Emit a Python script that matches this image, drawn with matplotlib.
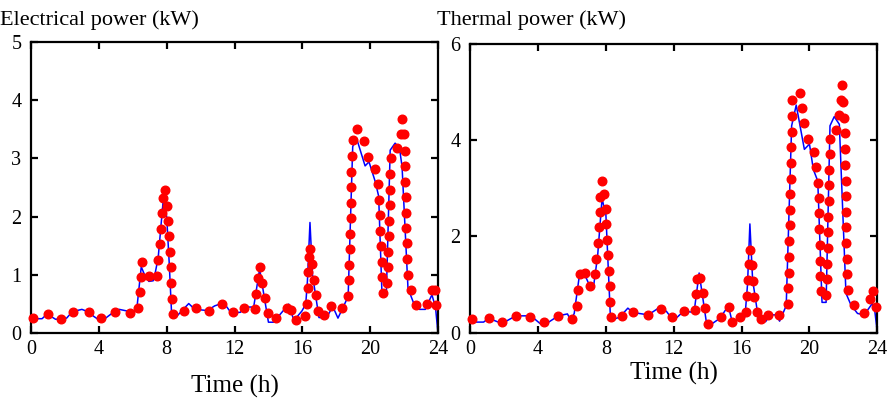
import matplotlib
matplotlib.use("Agg")
import matplotlib.pyplot as plt
import numpy as np

plt.rcParams['font.family'] = ['Liberation Serif', 'DejaVu Serif']

# electrical power: measured profile (blue) and sampled points (red)
elec_line_t = [0.0, 0.65, 0.95, 1.45, 2.1, 2.43, 3.0, 3.36, 3.7, 4.0, 4.4, 4.9, 5.2, 5.7, 6.0,
               6.25, 6.5, 6.7, 6.95, 7.2, 7.3, 7.5, 7.78, 7.87, 8.0, 8.15, 8.3, 8.65, 9.3, 9.55,
               10.05, 10.4, 10.83, 11.13, 11.5, 11.8, 12.35, 12.55, 13.13, 13.48, 14.0, 14.3,
               15.2, 15.5, 15.97, 16.2, 16.3, 16.45, 16.6, 16.98, 17.43, 17.7, 17.9, 18.1, 18.7,
               18.97, 19.19, 19.7, 19.93, 20.3, 20.5, 20.7, 20.95, 21.18, 21.47, 21.73, 21.88,
               22.23, 22.6, 22.9, 23.25, 23.64, 23.85, 24.0]
elec_line_v = [0.25, 0.25, 0.33, 0.24, 0.26, 0.37, 0.41, 0.37, 0.29, 0.23, 0.26, 0.37, 0.41, 0.38, 0.31,
               0.45, 1.14, 1.0, 0.89, 0.9, 1.0, 1.3, 2.23, 2.18, 2.0, 1.2, 0.27, 0.31, 0.51, 0.44,
               0.40, 0.39, 0.47, 0.50, 0.47, 0.35, 0.36, 0.45, 0.45, 1.1, 0.19, 0.19,
               0.5, 0.22, 0.38, 0.5, 0.9, 1.9, 1.0, 0.27, 0.27, 0.41, 0.39, 0.26, 0.63,
               3.2, 3.35, 2.87, 2.94, 2.6, 2.35, 0.64, 0.64, 3.14, 3.26, 3.17, 2.86,
               0.77, 0.49, 0.41, 0.41, 0.66, 0.45, 0.0]

elec_dot_t = [0.12, 1.02, 1.76, 2.46, 3.4, 4.12, 4.96, 5.82, 6.32, 6.4, 6.48, 6.56, 6.96, 7.4,
              7.48, 7.58, 7.64, 7.72, 7.76, 7.88, 8.02, 8.1, 8.14, 8.2, 8.24, 8.28, 8.32, 8.36,
              9.0, 9.7, 10.5, 11.26, 11.9, 12.53, 13.21, 13.29, 13.39, 13.48, 13.64, 13.78,
              13.95, 14.46, 15.07, 15.32, 15.65, 16.14, 16.26, 16.32, 16.36, 16.41, 16.47,
              16.57, 16.67, 16.79, 16.9, 17.25, 17.68, 18.31, 18.72, 18.76, 18.78, 18.8, 18.82,
              18.84, 18.84, 18.86, 18.89, 18.93, 18.97, 19.25, 19.62, 19.85, 20.26, 20.46,
              20.52, 20.55, 20.59, 20.63, 20.67, 20.69, 20.73, 21.0, 21.04, 21.06, 21.1, 21.12,
              21.14, 21.16, 21.18, 21.22, 21.61, 21.79, 21.9, 21.98, 22.04, 22.04, 22.08, 22.1,
              22.12, 22.14, 22.16, 22.18, 22.21, 22.43, 22.7, 23.33, 23.64, 23.8, 23.89]
elec_dot_v = [0.27, 0.33, 0.25, 0.37, 0.37, 0.27, 0.37, 0.34, 0.43, 0.70, 0.96, 1.23, 0.99, 0.99,
              1.26, 1.53, 1.79, 2.06, 2.32, 2.45, 2.19, 1.93, 1.66, 1.39, 1.13, 0.86, 0.59, 0.33,
              0.38, 0.44, 0.39, 0.50, 0.37, 0.44, 0.41, 0.67, 0.94, 1.13, 0.87, 0.61,
              0.34, 0.26, 0.43, 0.40, 0.23, 0.30, 0.51, 0.78, 1.05, 1.31, 1.45,
              1.18, 0.91, 0.65, 0.38, 0.31, 0.46, 0.44, 0.64, 0.91, 1.17, 1.44, 1.71,
              1.97, 2.24, 2.50, 2.77, 3.04, 3.31, 3.51, 3.30, 3.03, 2.82, 2.56,
              2.29, 2.03, 1.76, 1.50, 1.23, 0.96, 0.69, 0.86, 1.13, 1.40, 1.66, 1.93,
              2.20, 2.46, 2.73, 3.0, 3.17, 3.41, 3.67, 3.41, 3.13, 2.87, 2.60, 2.34,
              2.07, 1.80, 1.54, 1.27, 1.0, 0.74, 0.49, 0.50, 0.75, 0.75, 0.48]

# thermal power
therm_line_t = [0.0, 0.8, 1.1, 1.88, 2.7, 3.5, 3.76, 4.16, 4.55, 5.2, 5.74, 5.94, 6.14, 6.44,
                6.73, 7.03, 7.29, 7.52, 7.78, 7.9, 8.0, 8.28, 8.81, 9.3, 9.6, 10.5, 11.19,
                11.58, 11.88, 12.2, 12.6, 13.2, 13.5, 13.95, 14.15, 14.73, 15.22, 15.47, 15.75,
                16.2, 16.35, 16.49, 16.65, 16.98, 17.17, 17.42, 17.66, 18.05, 18.24, 18.63,
                18.95, 19.22, 19.7, 20.0, 20.23, 20.49, 20.74, 20.98, 21.21, 21.46, 21.76,
                22.15, 22.44, 22.83, 23.22, 23.71, 23.85, 24.0]
therm_line_v = [0.22, 0.22, 0.30, 0.19, 0.35, 0.35, 0.30, 0.18, 0.20, 0.35, 0.39, 0.26, 0.40, 1.18,
                1.23, 0.99, 0.99, 1.6, 2.79, 2.6, 2.5, 0.26, 0.32, 0.51, 0.42, 0.37, 0.53,
                0.44, 0.30, 0.32, 0.45, 0.42, 1.24, 0.16, 0.16, 0.30, 0.56, 0.19, 0.26,
                0.33, 1.0, 2.26, 1.1, 0.32, 0.26, 0.23, 0.37, 0.37, 0.24, 0.56,
                4.3, 4.73, 3.81, 3.92, 3.39, 3.15, 0.63, 0.63, 4.3, 4.49, 4.33,
                0.82, 0.58, 0.40, 0.37, 0.61, 0.45, 0.0]

therm_dot_t = [0.14, 1.09, 1.88, 2.71, 3.56, 4.38, 5.19, 5.98, 6.3, 6.38, 6.46, 6.77, 7.09, 7.35,
               7.45, 7.54, 7.58, 7.64, 7.68, 7.78, 7.88, 8.0, 8.04, 8.08, 8.14, 8.18, 8.22, 8.26,
               8.3, 8.93, 9.62, 10.46, 11.25, 11.88, 12.62, 13.23, 13.31, 13.40, 13.56, 13.72,
               13.87, 14.05, 14.81, 15.24, 15.41, 15.9, 16.25, 16.33, 16.35, 16.41, 16.49, 16.59,
               16.66, 16.74, 16.88, 17.13, 17.58, 18.19, 18.73, 18.75, 18.79, 18.79, 18.81,
               18.83, 18.85, 18.87, 18.89, 18.91, 18.93, 18.95, 18.95, 18.99, 19.45, 19.57,
               19.68, 19.92, 20.25, 20.39, 20.49, 20.55, 20.57, 20.59, 20.6, 20.62, 20.64, 20.68,
               20.98, 21.01, 21.03, 21.07, 21.09, 21.11, 21.13, 21.15, 21.17, 21.21, 21.23,
               21.56, 21.72, 21.85, 21.93, 21.99, 22.05, 22.07, 22.09, 22.11, 22.13, 22.15,
               22.15, 22.17, 22.17, 22.19, 22.2, 22.26, 22.63, 23.2, 23.55, 23.77, 23.9]
therm_dot_v = [0.28, 0.31, 0.23, 0.35, 0.32, 0.23, 0.35, 0.28, 0.56, 0.89, 1.21, 1.25, 0.97, 1.21,
               1.54, 1.86, 2.19, 2.51, 2.83, 3.16, 2.88, 2.58, 2.26, 1.93, 1.61, 1.29, 0.96, 0.64,
               0.32, 0.35, 0.42, 0.37, 0.49, 0.32, 0.45, 0.47, 0.80, 1.11, 1.13, 0.82,
               0.51, 0.19, 0.32, 0.54, 0.23, 0.33, 0.44, 0.77, 1.10, 1.43, 1.72, 1.41,
               1.08, 0.75, 0.43, 0.28, 0.37, 0.36, 0.60, 0.92, 1.25, 1.57, 1.90,
               2.23, 2.55, 2.88, 3.20, 3.53, 3.85, 4.17, 4.50, 4.83, 4.99, 4.67,
               4.35, 4.03, 3.76, 3.45, 3.12, 2.79, 2.48, 2.16, 1.83, 1.50, 1.18, 0.86,
               0.79, 1.11, 1.43, 1.76, 2.09, 2.41, 2.73, 3.06, 3.38, 3.71, 4.03,
               4.21, 4.53, 4.83, 5.15, 4.80, 4.46, 4.14, 3.81, 3.48, 3.16, 2.84,
               2.51, 2.19, 1.86, 1.54, 1.22, 0.89, 0.58, 0.40, 0.70, 0.86, 0.53]

x_ticks = [0, 4, 8, 12, 16, 20, 24]

fig = plt.figure(figsize=(8.89, 3.99), dpi=100)
ax1 = fig.add_axes([0.0349, 0.1647, 0.4578, 0.7308])
ax2 = fig.add_axes([0.5287, 0.1662, 0.4582, 0.7236])

panels = [
    (ax1, elec_line_t, elec_line_v, elec_dot_t, elec_dot_v, 5, [0, 1, 2, 3, 4, 5]),
    (ax2, therm_line_t, therm_line_v, therm_dot_t, therm_dot_v, 6, [0, 2, 4, 6]),
]
for ax, lt, lv, dt, dv, ymax, yt in panels:
    ax.plot(lt, lv, color='#0000ff', lw=1.1, zorder=2, clip_on=False)
    ax.plot(dt, dv, 'o', color='#ff0000', ms=6.2, mec='#ff0000', zorder=3, clip_on=False)
    ax.set_xlim(0, 24)
    ax.set_ylim(0, ymax)
    ax.set_xticks(x_ticks)
    ax.set_yticks(yt)
    ax.tick_params(direction='in', top=True, right=True, length=5, width=1.6,
                   labelsize=14.5, color='black')
    ax.tick_params(axis='x', pad=5)
    ax.tick_params(axis='y', pad=7)
    for s in ax.spines.values():
        s.set_linewidth(1.6)

fig.text(0.0, 0.937, 'Electrical power (kW)', fontsize=16, ha='left', va='baseline')
fig.text(0.4916, 0.937, 'Thermal power (kW)', fontsize=16, ha='left', va='baseline')
fig.text(0.264, 0.015, 'Time (h)', fontsize=18, ha='center', va='baseline')
fig.text(0.758, 0.0476, 'Time (h)', fontsize=18, ha='center', va='baseline')

fig.savefig('out.png', dpi=100)
